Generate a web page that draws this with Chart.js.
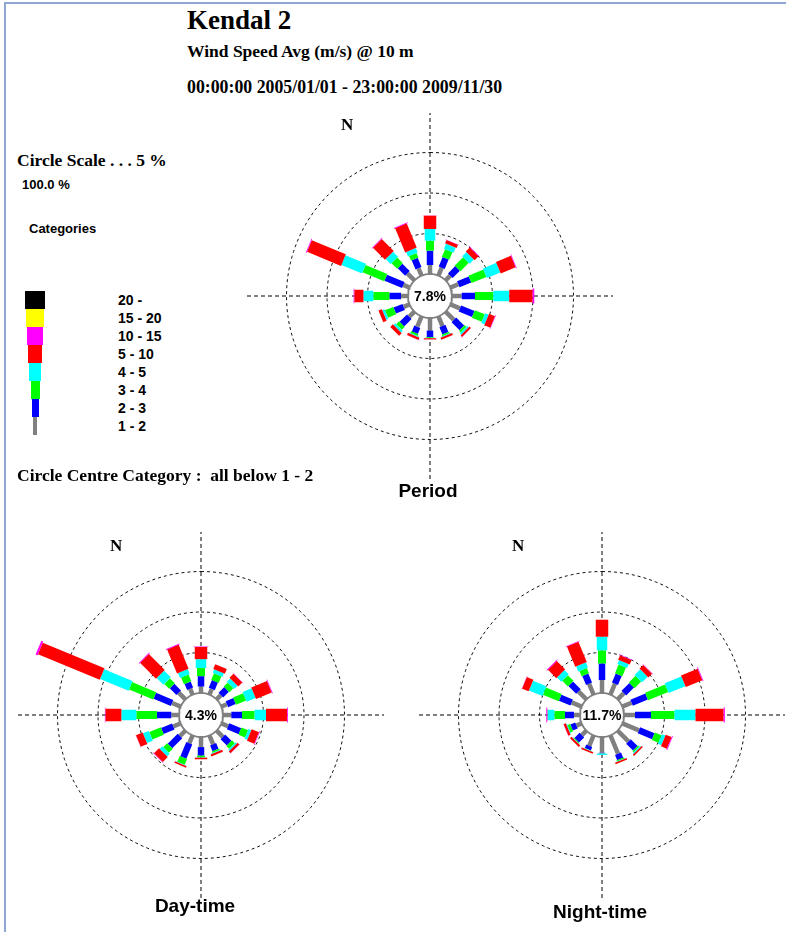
<!DOCTYPE html>
<html>
<head>
<meta charset="utf-8">
<script src="https://cdn.jsdelivr.net/npm/chart.js@4.4.1/dist/chart.umd.min.js"></script>
<style>
  html, body { margin: 0; padding: 0; background: #fff; overflow: hidden; }
  body { width: 786px; height: 932px; position: relative; }
  #frame { position: absolute; left: 4px; top: 2px; right: -4px; bottom: -4px;
           border-left: 2px solid #8ea8d2; border-top: 2px solid #8ea8d2; }
  .t { position: absolute; white-space: pre; color: #000; }
  .serif { font-family: "Liberation Serif", "Times New Roman", serif; font-weight: bold; }
  .sans { font-family: "Liberation Sans", Arial, sans-serif; font-weight: bold; }
  canvas.rose { position: absolute; }
  .swatch { position: absolute; }
</style>
</head>
<body>
<div id="frame"></div>
<canvas id="rosePeriod" class="rose" width="376" height="376"></canvas>
<canvas id="roseDay" class="rose" width="376" height="376"></canvas>
<canvas id="roseNight" class="rose" width="376" height="376"></canvas>
<script>
// ---- data -----------------------------------------------------------
const directions = ['N','NNE','NE','ENE','E','ESE','SE','SSE','S','SSW','SW','WSW','W','WNW','NW','NNW'];

// speed classes (m/s), listed top-down as in the legend
const speedClasses = ['20 -', '15 - 20', '10 - 15', '5 - 10', '4 - 5', '3 - 4', '2 - 3', '1 - 2'];
const classColors  = ['#000000', '#ffff00', '#ff00ff', '#ff0000', '#00ffff', '#00ff00', '#0000ff', '#808080'];

// frequency (%) per direction, one array per speed class
const period1to2   = [1.11, 1.07, 0.83, 1.07, 1.20, 1.28, 1.45, 1.30, 1.55, 1.38, 0.90, 0.80, 0.86, 0.85, 1.23, 0.99];
const period2to3   = [1.77, 1.25, 1.27, 1.56, 1.64, 1.79, 1.40, 0.95, 0.80, 0.80, 1.30, 1.20, 1.44, 2.35, 1.29, 1.23];
const period3to4   = [1.23, 1.01, 1.47, 2.00, 2.26, 1.33, 0.30, 0.20, 0.10, 0.25, 0.50, 1.10, 1.98, 2.90, 0.99, 0.62];
const period4to5   = [1.45, 0.68, 0.73, 1.79, 1.97, 0.46, 0.25, 0.10, 0.05, 0.10, 0.30, 0.30, 1.22, 2.75, 0.87, 0.59];
const period5to10  = [1.64, 0.43, 0.70, 2.00, 2.89, 0.80, 0.25, 0.25, 0.15, 0.30, 0.45, 0.45, 1.13, 4.55, 2.10, 3.24];
const period10to15 = [0.02, 0.03, 0.07, 0.08, 0.20, 0.06, 0.03, 0.00, 0.00, 0.02, 0.00, 0.00, 0.08, 0.10, 0.07, 0.08];
const periodCalm = 7.8;

const day1to2   = [0.80, 0.75, 0.75, 0.75, 1.03, 0.90, 1.10, 1.20, 1.25, 1.07, 0.95, 0.99, 0.95, 1.15, 1.18, 0.80];
const day2to3   = [1.28, 1.03, 1.00, 1.02, 1.32, 1.59, 1.10, 0.75, 1.05, 1.90, 1.75, 1.46, 1.77, 2.31, 1.16, 0.80];
const day3to4   = [1.00, 0.89, 0.70, 1.35, 1.56, 0.89, 0.50, 0.20, 0.20, 0.75, 0.70, 1.54, 2.55, 3.24, 0.87, 0.89];
const day4to5   = [1.10, 0.45, 0.58, 1.20, 1.40, 0.36, 0.20, 0.10, 0.05, 0.08, 0.46, 0.78, 1.85, 3.80, 1.17, 0.66];
const day5to10  = [1.50, 0.62, 0.70, 2.10, 2.59, 0.98, 0.30, 0.25, 0.20, 0.20, 0.87, 0.89, 1.97, 8.25, 2.78, 3.22];
const day10to15 = [0.06, 0.02, 0.03, 0.08, 0.10, 0.08, 0.03, 0.00, 0.00, 0.02, 0.05, 0.02, 0.06, 0.25, 0.09, 0.08];
const dayCalm = 4.3;

const night1to2   = [1.60, 1.47, 1.10, 1.24, 1.36, 2.22, 1.90, 2.45, 1.95, 1.40, 0.80, 0.70, 0.75, 1.34, 1.40, 1.47];
const night2to3   = [2.05, 1.20, 1.37, 2.01, 1.97, 1.92, 1.20, 0.70, 0.08, 0.45, 0.90, 0.65, 1.10, 1.54, 1.35, 1.20];
const night3to4   = [1.62, 1.16, 1.16, 2.68, 2.90, 0.89, 0.20, 0.15, 0.03, 0.05, 0.10, 0.35, 1.32, 2.10, 0.99, 0.70];
const night4to5   = [1.68, 0.53, 0.98, 2.23, 2.60, 0.45, 0.15, 0.05, 0.15, 0.05, 0.05, 0.10, 0.85, 1.79, 0.75, 0.68];
const night5to10  = [2.10, 0.60, 0.65, 2.21, 3.47, 0.80, 0.20, 0.20, 0.00, 0.20, 0.25, 0.30, 0.04, 0.88, 1.46, 2.70];
const night10to15 = [0.00, 0.05, 0.05, 0.10, 0.15, 0.10, 0.00, 0.00, 0.00, 0.00, 0.00, 0.02, 0.10, 0.03, 0.10, 0.08];
const nightCalm = 11.7;

const ringLevels = [5, 10, 15];   // circle scale step 5 %

// ---- drawing settings -------------------------------------------------
const PX_PER_PCT = 8.1;             // radial scale
const CALM_R = 22 / PX_PER_PCT;     // calm disc radius, in % units
const HALF = 188 / PX_PER_PCT;      // half extent of each canvas, in % units
const CROSS = 183 / PX_PER_PCT;     // half length of the dashed cross
// stacked from the centre outwards: 1-2, 2-3, 3-4, 4-5, 5-10, 10-15
const stackColors = ['#808080', '#0000ff', '#00ff00', '#00ffff', '#ff0000', '#ff00ff'];
const stackWidths = [4.5, 6.5, 8, 10.5, 12.5, 15];

function polar(r, deg) {
  const a = deg * Math.PI / 180;
  return { x: r * Math.sin(a), y: r * Math.cos(a) };
}

function circlePoints(r) {
  const pts = [];
  for (let a = 0; a <= 360; a += 2) pts.push(polar(r, a));
  return pts;
}

const centreLabel = {
  id: 'centreLabel',
  afterDatasetsDraw(chart, args, opts) {
    const { ctx, scales } = chart;
    ctx.save();
    ctx.font = 'bold 14px "Liberation Sans", Arial, sans-serif';
    ctx.textAlign = 'center';
    ctx.textBaseline = 'middle';
    ctx.fillStyle = '#000';
    ctx.fillText(opts.text, scales.x.getPixelForValue(0), scales.y.getPixelForValue(0) + 1);
    ctx.restore();
  }
};

function buildRose(canvasId, cx, cy, classes, calm) {
  const canvas = document.getElementById(canvasId);
  canvas.style.left = (cx - 188) + 'px';
  canvas.style.top = (cy - 188) + 'px';

  const datasets = [];
  const line = { showLine: true, pointRadius: 0, borderCapStyle: 'butt',
                 borderJoinStyle: 'bevel', fill: false };

  // dashed cross
  datasets.push({ ...line, data: [{ x: -CROSS, y: 0 }, { x: CROSS, y: 0 }],
    borderColor: '#000', borderWidth: 1, borderDash: [4, 3], order: 100 });
  datasets.push({ ...line, data: [{ x: 0, y: -CROSS }, { x: 0, y: CROSS }],
    borderColor: '#000', borderWidth: 1, borderDash: [4, 3], order: 100 });

  // dashed percentage circles
  ringLevels.forEach(p => {
    datasets.push({ ...line, data: circlePoints(CALM_R + p),
      borderColor: '#111', borderWidth: 1, borderDash: [3, 3], order: 90 });
  });

  // stacked direction bars (a solid "dash" keeps each bar a plain two-point path)
  directions.forEach((dir, d) => {
    const deg = d * 22.5;
    let cum = 0;
    classes.forEach((arr, k) => {
      const v = arr[d];
      if (v > 0) {
        datasets.push({ ...line,
          data: [polar(CALM_R + cum, deg), polar(CALM_R + cum + v, deg)],
          borderColor: stackColors[k], borderWidth: stackWidths[k],
          borderDash: [2000, 0], order: 20 - k });
      }
      cum += v;
    });
  });

  // calm disc
  datasets.push({ ...line, data: circlePoints(CALM_R), fill: 'shape',
    backgroundColor: '#ffffff', borderColor: '#808080', borderWidth: 1.8, order: 1 });

  return new Chart(canvas, {
    type: 'scatter',
    data: { datasets },
    options: {
      responsive: false,
      animation: false,
      devicePixelRatio: 1,
      layout: { padding: 0 },
      events: [],
      scales: {
        x: { type: 'linear', min: -HALF, max: HALF, display: false },
        y: { type: 'linear', min: -HALF, max: HALF, display: false }
      },
      plugins: {
        legend: { display: false },
        tooltip: { enabled: false },
        centreLabel: { text: calm.toFixed(1) + '%' }
      }
    },
    plugins: [centreLabel]
  });
}

buildRose('rosePeriod', 430, 296,
  [period1to2, period2to3, period3to4, period4to5, period5to10, period10to15], periodCalm);
buildRose('roseDay', 201, 715,
  [day1to2, day2to3, day3to4, day4to5, day5to10, day10to15], dayCalm);
buildRose('roseNight', 602, 715,
  [night1to2, night2to3, night3to4, night4to5, night5to10, night10to15], nightCalm);

// ---- text and legend ------------------------------------------------------
function putText(str, cls, size, x, cy, centred) {
  const el = document.createElement('div');
  el.className = 't ' + cls;
  el.textContent = str;
  el.style.fontSize = size + 'px';
  el.style.lineHeight = size + 'px';
  el.style.top = (cy - size * 0.5) + 'px';
  el.style.left = x + 'px';
  if (centred) el.style.transform = 'translateX(-50%)';
  document.body.appendChild(el);
  return el;
}

putText('Kendal 2', 'serif', 27, 187, 20);
putText('Wind Speed Avg (m/s) @ 10 m', 'serif', 17.5, 187, 52);
putText('00:00:00 2005/01/01 - 23:00:00 2009/11/30', 'serif', 17.8, 187, 88);
putText('Circle Scale . . . 5 %', 'serif', 17.5, 17, 161);
putText('100.0 %', 'sans', 13, 22, 184);
putText('Categories', 'sans', 13, 29, 228);
putText('Circle Centre Category :  all below 1 - 2', 'serif', 17.5, 17, 476);

putText('N', 'serif', 17, 341, 124);
putText('N', 'serif', 17, 110, 545);
putText('N', 'serif', 17, 512, 545);
putText('Period', 'sans', 19, 428, 490, true);
putText('Day-time', 'sans', 19, 195, 905, true);
putText('Night-time', 'sans', 19, 600, 911, true);

const swatchWidths = [20, 18, 16, 14, 11.5, 9, 7, 4.7];
speedClasses.forEach((label, i) => {
  const top = 291 + 18 * i;
  const sw = document.createElement('div');
  sw.className = 'swatch';
  sw.style.left = (35 - swatchWidths[i] / 2) + 'px';
  sw.style.top = top + 'px';
  sw.style.width = swatchWidths[i] + 'px';
  sw.style.height = '18px';
  sw.style.background = classColors[i];
  document.body.appendChild(sw);
  putText(label, 'sans', 14, 118, top + 9);
});
</script>
</body>
</html>
